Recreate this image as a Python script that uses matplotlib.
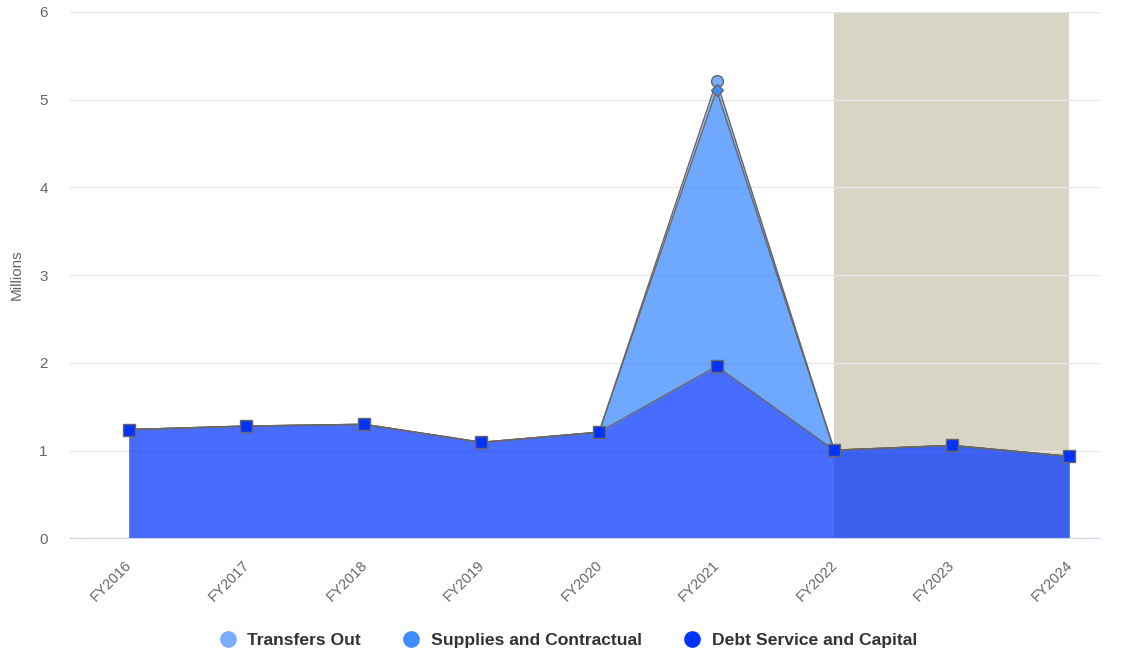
import numpy as np
import matplotlib.pyplot as plt
import matplotlib.transforms as mtransforms
from matplotlib.lines import Line2D

# --- Datos ---
years = ['FY2016', 'FY2017', 'FY2018', 'FY2019', 'FY2020',
         'FY2021', 'FY2022', 'FY2023', 'FY2024']
debt_service = [1.24, 1.28, 1.30, 1.095, 1.21, 1.96, 1.005, 1.06, 0.935]
supplies = [0, 0, 0, 0, 0, 3.15, 0, 0, 0]
transfers_out = [0, 0, 0, 0, 0, 0.10, 0, 0, 0]
series_names = ['Transfers Out', 'Supplies and Contractual', 'Debt Service and Capital']
series_colors = ['#7cacff', '#3d8bff', '#0033ff']
projected_from = 'FY2022'

plt.rcParams['font.family'] = ['Liberation Sans', 'DejaVu Sans']

fig = plt.figure(figsize=(11.27, 6.55), dpi=100)
ax = fig.add_axes([0.062, 0.178, 0.914, 0.804])

x = np.arange(len(years))
d = np.array(debt_service)
s = d + np.array(supplies)
t = s + np.array(transfers_out)

# banda sombreada (proyección)
i0 = years.index(projected_from)
ax.axvspan(i0, len(years) - 1, color='#d8d5c5', zorder=0.5, lw=0)

# áreas apiladas
ax.fill_between(x, s, t, color=series_colors[0], alpha=0.75, lw=0, zorder=1)
ax.fill_between(x, d, s, color=series_colors[1], alpha=0.75, lw=0, zorder=1)
ax.fill_between(x, 0, d, color=series_colors[2], alpha=0.72, lw=0, zorder=1)

ax.plot(x, t, color='#666666', lw=1, zorder=2)
ax.plot(x, s, color='#666666', lw=1, zorder=2)
ax.plot(x, d, color='#666666', lw=1, zorder=2)

# marcadores
mt = np.array(transfers_out) > 0
ax.plot(x[mt], t[mt], 'o', ms=8.5, mfc=series_colors[0], mec='#666666', mew=1, zorder=3)
ms_ = np.array(supplies) > 0
ax.plot(x[ms_], s[ms_], 'D', ms=6, mfc=series_colors[1], mec='#666666', mew=1, zorder=4)
ax.plot(x, d, 's', ms=8, mfc=series_colors[2], mec='#666666', mew=1, zorder=4)

ax.set_xlim(-0.5, len(years) - 1 + 0.26)
ax.set_ylim(0, 6)
ax.set_yticks(range(7))
ax.set_xticks(x)
ax.set_xticklabels(years, rotation=45, ha='right', rotation_mode='anchor')
ax.tick_params(axis='x', length=0, pad=14, labelsize=10.5, colors='#666666')
ax.tick_params(axis='y', length=0, pad=22, labelsize=11, colors='#666666')
offset = mtransforms.ScaledTranslation(-4 / 100, 0, fig.dpi_scale_trans)
for lbl in ax.get_xticklabels():
    lbl.set_transform(lbl.get_transform() + offset)
for lbl in ax.get_yticklabels():
    lbl.set_horizontalalignment('left')
ax.yaxis.grid(True, color='#e6e6e6', lw=1)
ax.set_axisbelow(True)
for sp in ['top', 'right', 'left']:
    ax.spines[sp].set_visible(False)
ax.spines['bottom'].set_color('#ccd6eb')
ax.set_ylabel('Millions', color='#666666', fontsize=11)
ax.yaxis.set_label_coords(-0.045, 0.5)

handles = [Line2D([], [], marker='o', ls='', ms=11, mfc=c, mec=c) for c in series_colors]
fig.legend(handles, series_names, loc='lower center', ncol=3, frameon=False,
           bbox_to_anchor=(0.5, -0.014), handletextpad=0.1, columnspacing=1.9,
           prop={'weight': 'bold', 'size': 12.6})
for txt in fig.legends[0].get_texts():
    txt.set_color('#333333')

fig.savefig('out.png', dpi=100)
